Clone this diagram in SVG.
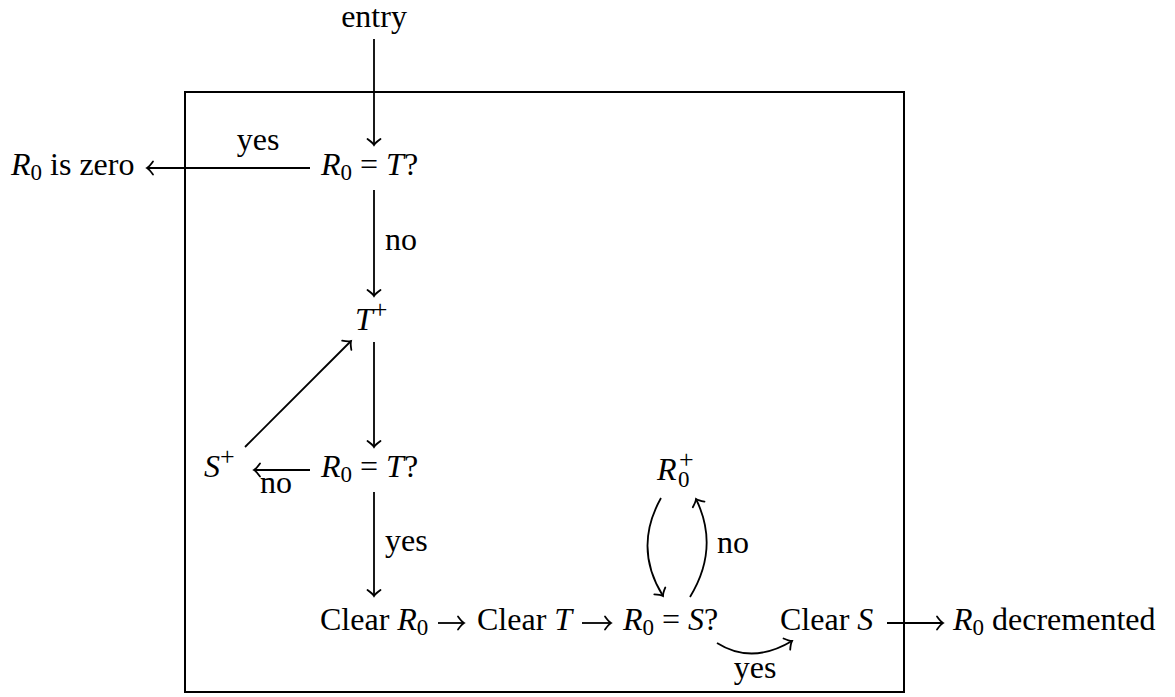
<svg xmlns="http://www.w3.org/2000/svg" width="1175" height="697" viewBox="0 0 1175 697">
<defs>
<marker id="ah" markerUnits="userSpaceOnUse" markerWidth="20" markerHeight="20" viewBox="-10 -10 20 20" refX="0" refY="0" orient="auto">
<path d="M-6,-6.5 Q-2.5,-1.5 0,0 Q-2.5,1.5 -6,6.5" fill="none" stroke="#000" stroke-width="1.8" stroke-linecap="round"/>
</marker>
</defs>
<style>
text{font-family:"Liberation Serif","Times New Roman",serif;font-size:32px;fill:#000}
.i{font-style:italic}
.s{font-size:23px}
.p{font-size:26px}
.c{stroke:#000;stroke-width:1.8;fill:none;marker-end:url(#ah)}
</style>
<rect x="185" y="92" width="719" height="600" fill="none" stroke="#000" stroke-width="2"/>
<g id="connectors">
<line class="c" x1="374" y1="39" x2="374" y2="145"/>
<line class="c" x1="310" y1="168" x2="147" y2="168"/>
<line class="c" x1="374" y1="190" x2="374" y2="296"/>
<line class="c" x1="374" y1="342" x2="374" y2="447"/>
<line class="c" x1="310" y1="470" x2="254" y2="470"/>
<line class="c" x1="245" y1="447" x2="351" y2="341"/>
<line class="c" x1="374" y1="492" x2="374" y2="596"/>
<line class="c" x1="438" y1="623" x2="464" y2="623"/>
<line class="c" x1="582" y1="623" x2="611" y2="623"/>
<path class="c" d="M661,498 Q633,548 663,596"/>
<path class="c" d="M690,597 Q720,548 696,499"/>
<path class="c" d="M717,643 Q752,665 792,641"/>
<line class="c" x1="887" y1="623" x2="943" y2="623"/>
</g>
<g id="labels">
<text x="258" y="150" text-anchor="middle">yes</text>
<text x="385" y="250">no</text>
<text x="276" y="493" text-anchor="middle">no</text>
<text x="385" y="551">yes</text>
<text x="717" y="553">no</text>
<text x="755" y="678" text-anchor="middle">yes</text>
</g>
<g id="entry"><text x="374" y="27" text-anchor="middle">entry</text></g>
<g id="test1"><text x="321" y="175"><tspan class="i">R</tspan><tspan class="s" dy="5">0</tspan><tspan dy="-5"> = </tspan><tspan class="i">T</tspan>?</text></g>
<g id="zero"><text x="11" y="175"><tspan class="i">R</tspan><tspan class="s" dy="5">0</tspan><tspan dy="-5"> is zero</tspan></text></g>
<g id="tplus"><text x="355" y="330"><tspan class="i">T</tspan><tspan class="p" dy="-12">+</tspan></text></g>
<g id="test2"><text x="321" y="477"><tspan class="i">R</tspan><tspan class="s" dy="5">0</tspan><tspan dy="-5"> = </tspan><tspan class="i">T</tspan>?</text></g>
<g id="splus"><text x="204" y="477"><tspan class="i">S</tspan><tspan class="p" dy="-12">+</tspan></text></g>
<g id="clearR"><text x="320" y="630">Clear <tspan class="i">R</tspan><tspan class="s" dy="5">0</tspan></text></g>
<g id="clearT"><text x="477" y="630">Clear <tspan class="i">T</tspan></text></g>
<g id="test3"><text x="623" y="630"><tspan class="i">R</tspan><tspan class="s" dy="5">0</tspan><tspan dy="-5"> = </tspan><tspan class="i">S</tspan>?</text></g>
<g id="rplus"><text x="657" y="480"><tspan class="i">R</tspan><tspan class="p" x="679" y="468">+</tspan><tspan class="s" x="678" y="487">0</tspan></text></g>
<g id="clearS"><text x="780" y="630">Clear <tspan class="i">S</tspan></text></g>
<g id="dec"><text x="953" y="630"><tspan class="i">R</tspan><tspan class="s" dy="5">0</tspan><tspan dy="-5"> decremented</tspan></text></g>
</svg>
